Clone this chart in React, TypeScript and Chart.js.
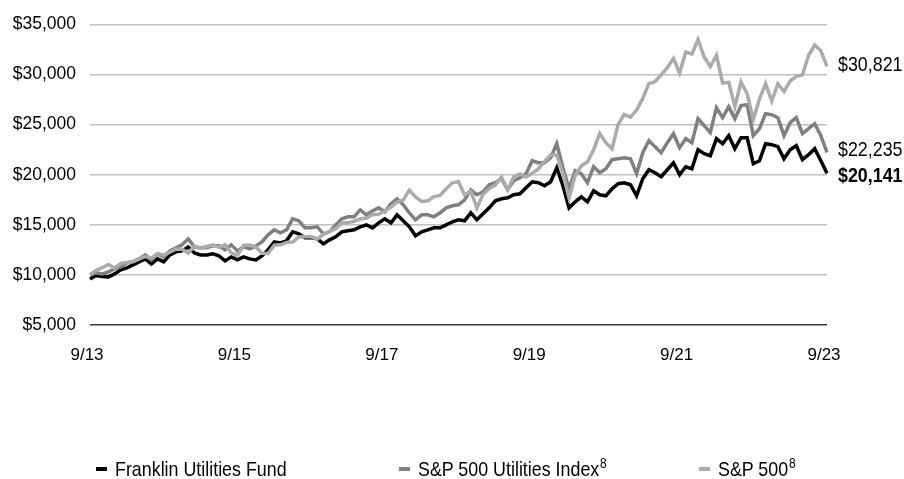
import { useEffect, useRef } from "react";
import { Chart, registerables } from "chart.js";

Chart.register(...registerables);

// Monthly categories from 9/13 to 9/23
const startYear = 13;
const monthCount = 121;
const categories: string[] = [];
for (let i = 0; i < monthCount; i++) {
  const m = ((8 + i) % 12) + 1;
  const y = startYear + Math.floor((8 + i) / 12);
  categories.push(`${m}/${y}`);
}

const xTickLabels = ["9/13", "9/15", "9/17", "9/19", "9/21", "9/23"];
const yTicks = [5000, 10000, 15000, 20000, 25000, 30000, 35000];

const seriesNames = ["Franklin Utilities Fund", "S&P 500 Utilities Index", "S&P 500"];

const franklinUtilitiesFund = [
  9600, 9950, 9850, 9800, 10100, 10500, 10700, 11000, 11300, 11600,
  11100, 11600, 11300, 12000, 12300, 12400, 12800, 12200, 12000, 12000,
  12100, 11900, 11400, 11800, 11500, 11800, 11600, 11500, 11900, 12500,
  13300, 13200, 13400, 14300, 14100, 13700, 13700, 13600, 13100, 13500,
  13800, 14300, 14400, 14500, 14800, 15000, 14700, 15200, 15600, 15200,
  16000, 15400, 14800, 13900, 14300, 14500, 14700, 14700, 15000, 15300,
  15500, 15400, 16200, 15500, 16100, 16700, 17400, 17600, 17700, 18000,
  18100, 18700, 19300, 19200, 18900, 19300, 20700, 18900, 16700, 17300,
  17800, 17300, 18400, 18000, 17900, 18600, 19100, 19200, 19000, 17900,
  19600, 20500, 20200, 19800, 20500, 21200, 20000, 20800, 20600, 22500,
  22100, 21900, 23600, 23100, 23900, 22600, 23700, 23700, 21100, 21400,
  23100, 23000, 22800, 21600, 22500, 22900, 21500, 22000, 22600, 21400,
  20141,
];

const sp500UtilitiesIndex = [
  10000, 10200, 10100, 10300, 10600, 10800, 11200, 11300, 11600, 12000,
  11500, 12100, 11800, 12400, 12700, 13000, 13600, 12800, 12700, 12700,
  12900, 12900, 12500, 13000, 12400, 12800, 12600, 12900, 13300, 14000,
  14500, 14200, 14500, 15600, 15400, 14700, 14700, 14800, 14100, 14300,
  15000, 15600, 15800, 15800, 16500, 16000, 16400, 16700, 16300, 17100,
  17600, 17000, 16200, 15500, 16000, 16000, 15800, 16200, 16700, 16900,
  17000, 17500, 18500, 18000, 18300, 19000, 19200, 19600, 18500, 19400,
  19700, 20100, 21400, 21200, 21200, 21700, 23100, 20700, 18600, 20400,
  20100, 19200, 20800, 20200, 20600, 21500, 21600, 21700, 21600, 20100,
  22200, 23400, 22800, 22200, 23200, 24100, 22700, 23600, 23200, 25600,
  24900, 24200, 26700, 25700, 26800, 25600, 26900, 27000, 23900, 24600,
  26100, 26000, 25700, 23900, 25200, 25700, 24100, 24600, 25100, 23900,
  22235,
];

const sp500 = [
  10000, 10460, 10720, 11050, 10670, 11160, 11250, 11340, 11600, 11840,
  11680, 12140, 11970, 12260, 12590, 12560, 12180, 12880, 12680, 12840,
  13000, 12750, 13020, 12240, 11940, 12950, 12990, 12790, 12150, 12140,
  12960, 13010, 13250, 13280, 13780, 13800, 13800, 13550, 14050, 14330,
  14600, 15180, 15200, 15360, 15580, 15680, 16000, 16050, 16380, 16760,
  17280, 17470, 18470, 17780, 17330, 17400, 17820, 17930, 18600, 19200,
  19310, 17990, 18360, 16700, 18040, 18620, 18980, 19750, 18500, 19800,
  20090, 19770, 20150, 20590, 21330, 21980, 21970, 20160, 17670, 19930,
  20880, 21300, 22500, 24110, 23200, 22580, 25050, 26010, 25750, 26460,
  27620, 29090, 29290, 29970, 30690, 31620, 30150, 32260, 32040, 33500,
  31750, 30800, 31940, 29160, 29220, 26800, 29270, 28080, 25490, 27550,
  29090, 27360, 29080, 28320, 29360, 29820, 29950, 31930, 32950, 32370,
  30821,
];

const endValueLabels = ["$20,141", "$22,235", "$30,821"];

const FONT = '"Liberation Sans", Arial, sans-serif';
const colors = ["#000000", "#808080", "#ababab"];
const labelNudge = [3, -2, -1];
const NARROW_SCALE = 0.85;

const endLabelPlugin = {
  id: "endLabels",
  afterDatasetsDraw(chart: any) {
    const { ctx, chartArea, scales } = chart;
    const y = scales.y;
    chart.data.datasets.forEach((ds: any, i: number) => {
      const v = ds.data[ds.data.length - 1];
      const py = y.getPixelForValue(v) + labelNudge[i];
      ctx.save();
      ctx.translate(chartArea.right + 11, py);
      ctx.scale(NARROW_SCALE, 1);
      ctx.font = `${i === 0 ? "bold " : ""}21px ${FONT}`;
      ctx.fillStyle = "#000";
      ctx.textAlign = "left";
      ctx.textBaseline = "middle";
      ctx.fillText(endValueLabels[i], 0, 0);
      ctx.restore();
    });
  },
};

export default function App() {
  const canvasRef = useRef<HTMLCanvasElement | null>(null);

  useEffect(() => {
    document.body.style.margin = "0";
    const canvas = canvasRef.current;
    if (!canvas) return;
    const chart = new Chart(canvas, {
      type: "line",
      data: {
        labels: categories,
        datasets: [
          { label: seriesNames[0], data: franklinUtilitiesFund, borderColor: colors[0], order: 2 },
          { label: seriesNames[1], data: sp500UtilitiesIndex, borderColor: colors[1], order: 1 },
          { label: seriesNames[2], data: sp500, borderColor: colors[2], order: 0 },
        ].map((d) => ({
          ...d,
          borderWidth: 3.5,
          pointRadius: 0,
          tension: 0,
          fill: false,
          borderJoinStyle: "miter" as const,
        })),
      },
      options: {
        animation: false,
        responsive: true,
        maintainAspectRatio: false,
        layout: { padding: { left: 0, right: 77, top: 23, bottom: 106 } },
        plugins: {
          legend: { display: false },
          tooltip: { enabled: false },
        },
        scales: {
          x: {
            type: "category",
            offset: false,
            grid: { display: false, drawTicks: false },
            border: { display: false },
            afterFit: (s: any) => {
              s.height = 48;
            },
            ticks: {
              autoSkip: false,
              maxRotation: 0,
              padding: 20,
              labelOffset: -3,
              color: "#000",
              font: { family: FONT, size: 17 },
              callback: (_v: any, idx: number) =>
                xTickLabels.includes(categories[idx]) ? categories[idx] : "",
            },
          },
          y: {
            min: 5000,
            max: 35000,
            afterFit: (s: any) => {
              s.width = 90;
            },
            afterBuildTicks: (s: any) => {
              s.ticks = yTicks.map((v) => ({ value: v }));
            },
            grid: {
              color: (c: any) => (c.tick && c.tick.value === 5000 ? "#3c3c3c" : "#c0c0c0"),
              lineWidth: 1.5,
              drawTicks: false,
            },
            border: { display: false },
            ticks: {
              padding: 14,
              color: "#000",
              font: { family: FONT, size: 17.5 },
              callback: (v: any) => "$" + Number(v).toLocaleString("en-US"),
            },
          },
        },
      },
      plugins: [endLabelPlugin],
    });
    return () => chart.destroy();
  }, []);

  const legendItems = [
    { left: 96, name: seriesNames[0], sup: "" },
    { left: 399, name: seriesNames[1], sup: "8" },
    { left: 699, name: seriesNames[2], sup: "8" },
  ];

  return (
    <div style={{ position: "relative", width: 904, height: 479, background: "#fff", fontFamily: FONT }}>
      <canvas ref={canvasRef} />
      {legendItems.map((it, i) => (
        <div
          key={i}
          style={{
            position: "absolute",
            left: it.left,
            top: 456,
            height: 26,
            fontSize: 21,
            lineHeight: "26px",
            color: "#000",
            whiteSpace: "nowrap",
            display: "flex",
            alignItems: "center",
          }}
        >
          <span
            style={{
              display: "inline-block",
              width: 11,
              height: 4,
              background: colors[i],
              marginRight: 8,
            }}
          />
          <span style={{ display: "inline-block", transform: `scaleX(${NARROW_SCALE})`, transformOrigin: "left center" }}>
            {it.name}
            {it.sup ? (
              <sup style={{ fontSize: 14, lineHeight: "14px", verticalAlign: "top", position: "relative", top: 0, marginLeft: 1 }}>
                {it.sup}
              </sup>
            ) : null}
          </span>
        </div>
      ))}
    </div>
  );
}
